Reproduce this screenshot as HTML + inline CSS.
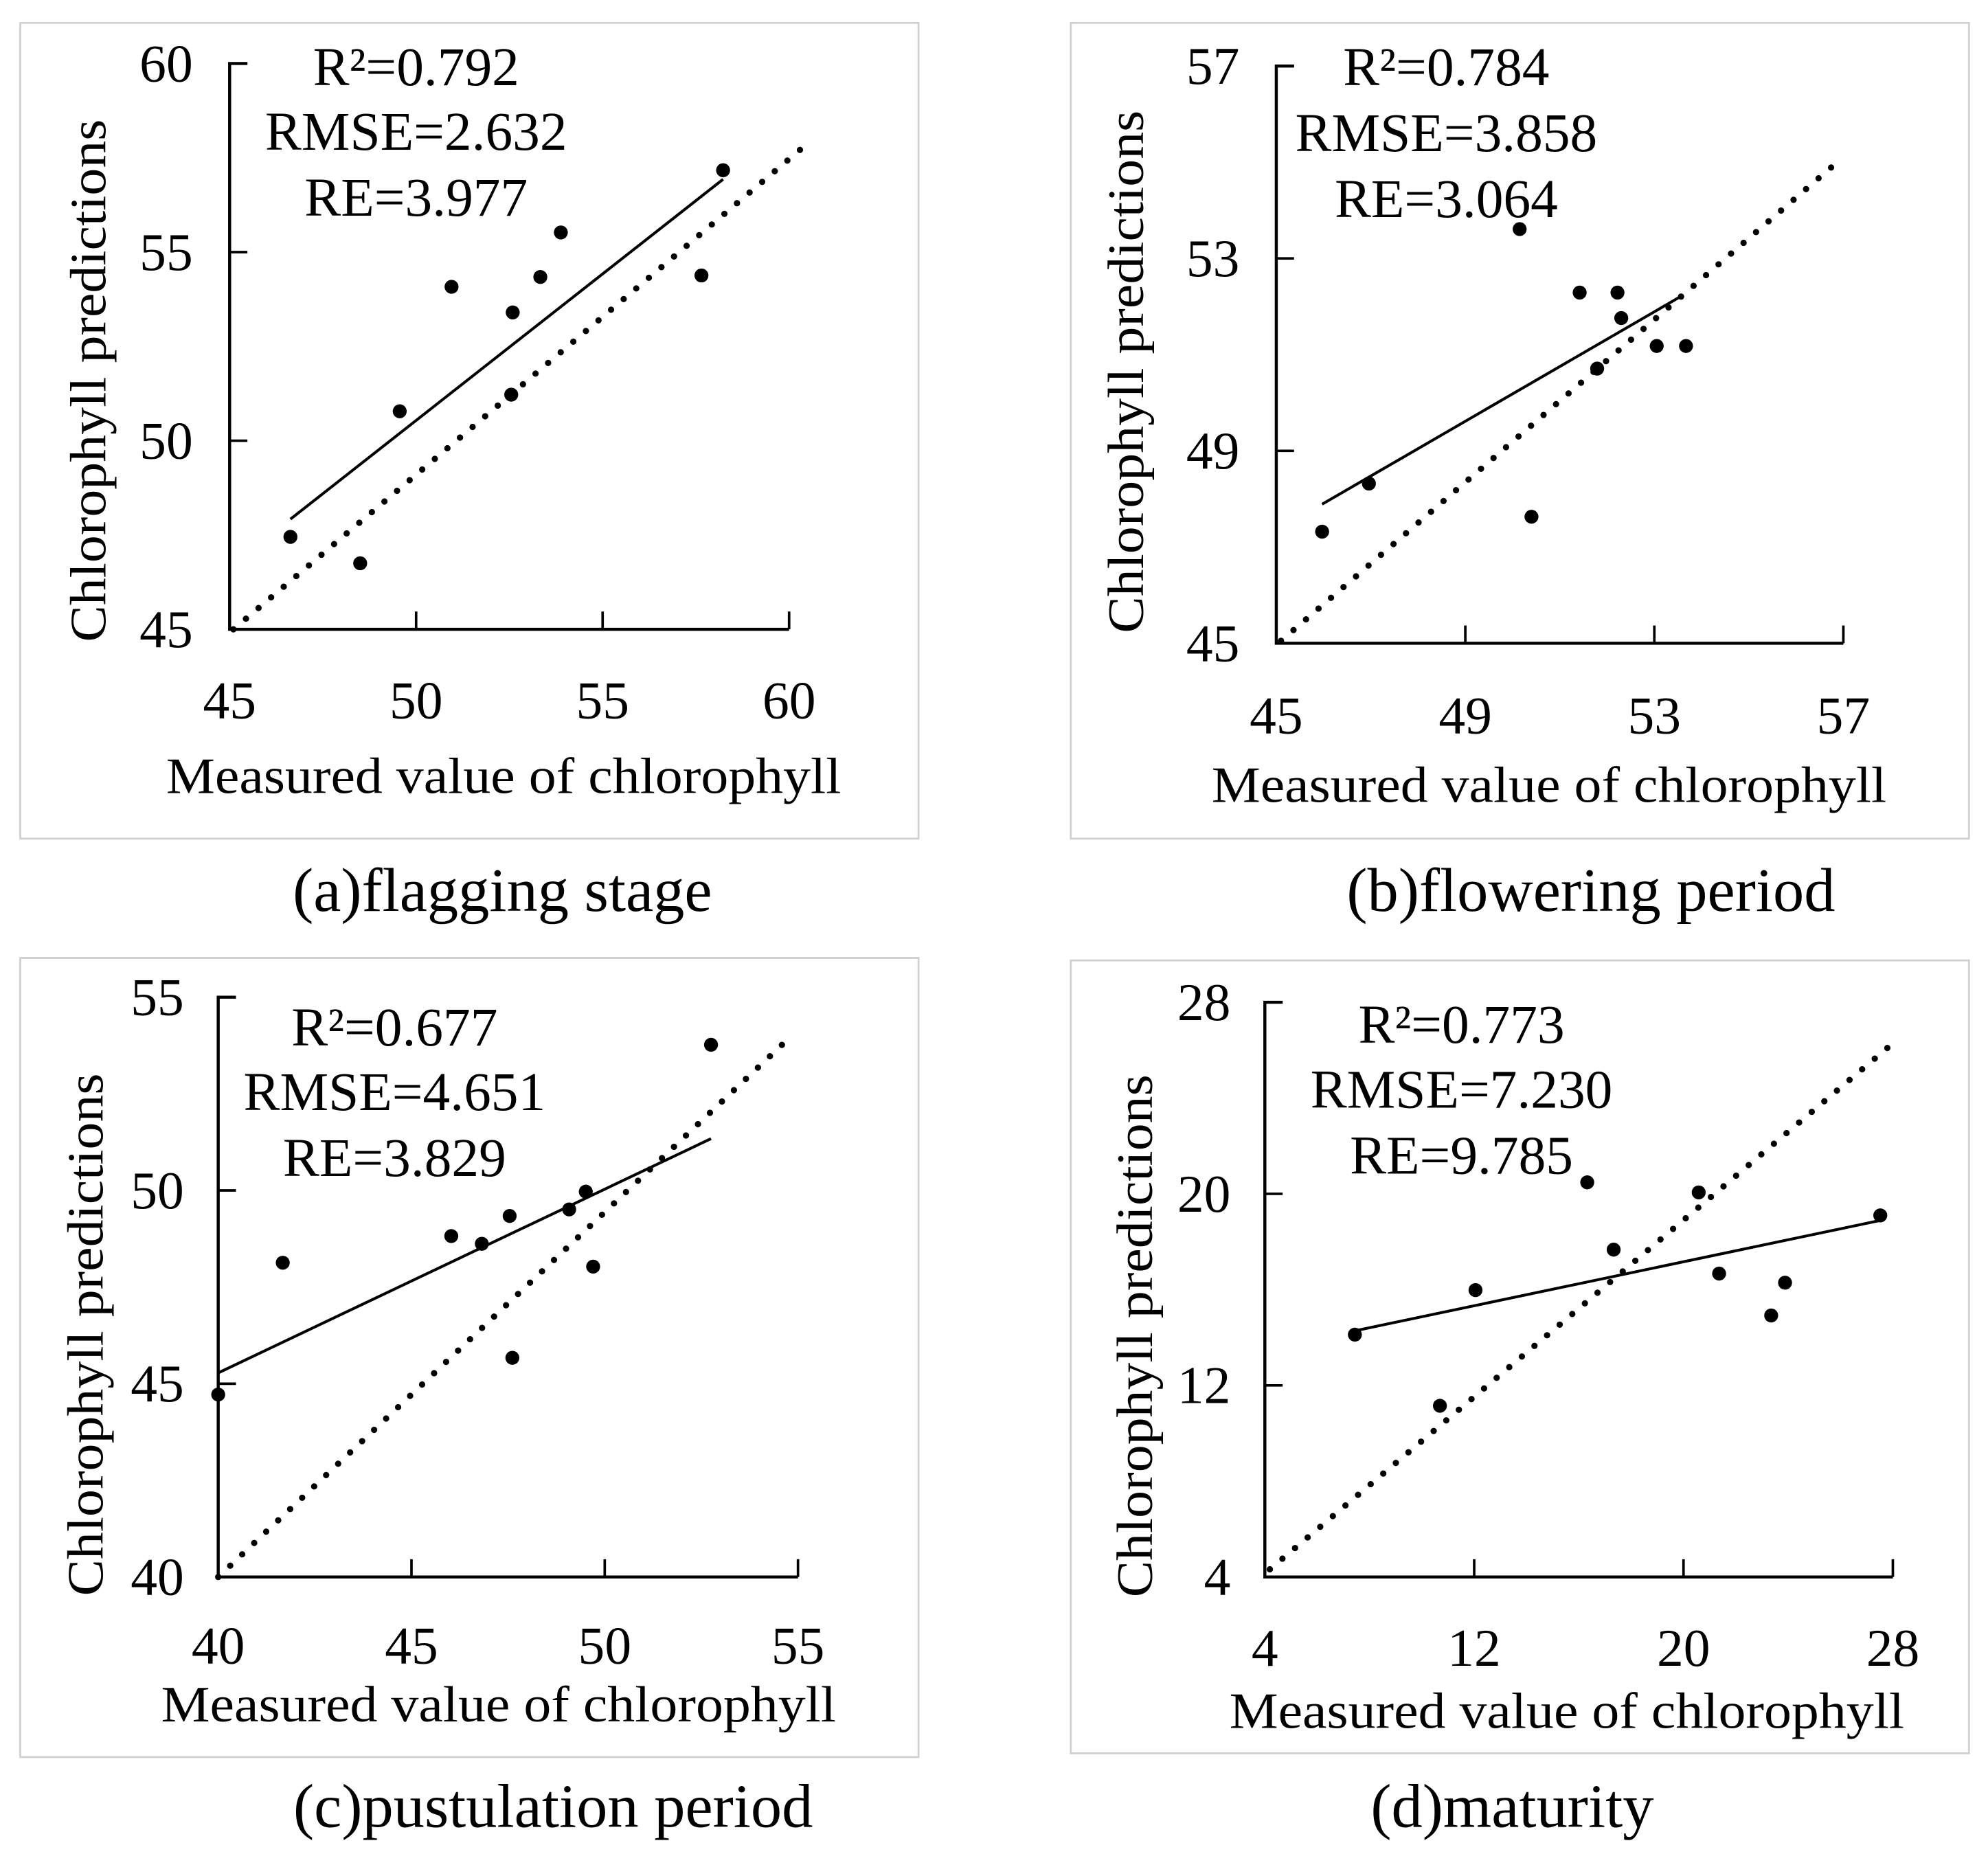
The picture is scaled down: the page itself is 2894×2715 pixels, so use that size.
<!DOCTYPE html>
<html><head><meta charset="utf-8"><style>html,body{margin:0;padding:0;background:#fff}svg{display:block}svg text{font-family:"Liberation Serif","Times New Roman",serif}</style></head>
<body>
<svg id="fig" width="2894" height="2715" viewBox="0 0 1567 1470" xmlns="http://www.w3.org/2000/svg" fill="#000"></svg>
<script>
const aMeasured=[46.63,48.50,49.56,50.95,52.59,52.55,53.33,53.88,57.65,58.23];
const aPredicted=[47.45,46.75,50.78,54.08,53.40,51.22,54.34,55.52,54.38,57.17];
const aFit=[[46.63,47.92],[58.23,56.93]];
const aOneToOne=[[45.1,45],[60.4,57.8]];
const aTicks=[45,50,55,60];
const aStats=["R²=0.792","RMSE=2.632","RE=3.977"];

const bMeasured=[45.97,46.96,50.15,50.40,51.42,51.79,52.22,52.30,53.05,53.67];
const bPredicted=[47.32,48.32,53.61,47.63,52.29,50.71,52.29,51.76,51.18,51.18];
const bFit=[[45.97,47.89],[53.56,52.21]];
const bOneToOne=[[45.1,45.05],[56.87,55.0]];
const bTicks=[45,49,53,57];
const bStats=["R²=0.784","RMSE=3.858","RE=3.064"];

const cMeasured=[40,41.67,46.03,46.82,47.54,47.61,49.08,49.51,49.70,52.75];
const cPredicted=[44.72,48.13,48.82,48.62,49.34,45.67,49.51,49.97,48.03,53.77];
const cFit=[[40,45.28],[52.75,51.34]];
const cOneToOne=[[40,40],[54.62,53.8]];
const cTicks=[40,45,50,55];
const cStats=["R²=0.677","RMSE=4.651","RE=3.829"];

const dMeasured=[7.44,10.69,12.05,16.32,17.33,20.58,21.36,23.35,23.88,27.52];
const dPredicted=[14.12,11.15,15.98,20.48,17.67,20.06,16.67,14.92,16.29,19.10];
const dFit=[[7.44,14.28],[27.52,18.89]];
const dOneToOne=[[4.19,4.32],[27.8,26.1]];
const dTicks=[4,12,20,28];
const dStats=["R²=0.773","RMSE=7.230","RE=9.785"];

const NS="http://www.w3.org/2000/svg";
const svg=document.getElementById('fig');
function mk(tag,attrs,parent){const e=document.createElementNS(NS,tag);for(const k in attrs)e.setAttribute(k,attrs[k]);(parent||svg).appendChild(e);return e;}

const panels=[
 {id:'a',xs:aMeasured,ys:aPredicted,fit:aFit,one:aOneToOne,ticks:aTicks,stats:aStats,caption:'(a)flagging stage',
  frame:[16,18,708,643],x0:181,x1:622,yb:496,yt:50,xlabY:566,ylabR:152,yTitle:[70,300],xTitle:[397,625],statX:328,statY:[67,118,170],cap:[396,718]},
 {id:'b',xs:bMeasured,ys:bPredicted,fit:bFit,one:bOneToOne,ticks:bTicks,stats:bStats,caption:'(b)flowering period',
  frame:[844,18,708,643],x0:1006,x1:1453,yb:507,yt:52,xlabY:578,ylabR:977,yTitle:[888,293],xTitle:[1221,632],statX:1140,statY:[67,119,171],cap:[1254,718]},
 {id:'c',xs:cMeasured,ys:cPredicted,fit:cFit,one:cOneToOne,ticks:cTicks,stats:cStats,caption:'(c)pustulation period',
  frame:[16,755,708,630],x0:172,x1:629,yb:1243,yt:786,xlabY:1311,ylabR:145,yTitle:[68,1052],xTitle:[393,1357],statX:311,statY:[824,875,927],cap:[436,1440]},
 {id:'d',xs:dMeasured,ys:dPredicted,fit:dFit,one:dOneToOne,ticks:dTicks,stats:dStats,caption:'(d)maturity',
  frame:[844,757,708,625],x0:997,x1:1492,yb:1243,yt:790,xlabY:1313,ylabR:970,yTitle:[895,1053],xTitle:[1235,1362],statX:1152,statY:[822,873,925],cap:[1192,1440]}
];

panels.forEach(p=>{
 const g=mk('g',{});
 
 
 const lo=p.ticks[0],hi=p.ticks[p.ticks.length-1];
 const X=v=>p.x0+(v-lo)/(hi-lo)*(p.x1-p.x0);
 const Y=v=>p.yb-(v-lo)/(hi-lo)*(p.yb-p.yt);
 const fr=mk('rect',{x:p.frame[0],y:p.frame[1],width:p.frame[2],height:p.frame[3],fill:'none',stroke:'#d0d0d0','stroke-width':1.5},g);
 
 
 const ax=mk('path',{d:`M${p.x0+14},${p.yt}H${p.x0}V${p.yb}H${p.x1}`,fill:'none',stroke:'#000','stroke-width':2.4},g);
 
 
 p.ticks.forEach((t,i)=>{
  if(i>0){const tk=mk('line',{x1:X(t),x2:X(t),y1:p.yb,y2:p.yb-14,stroke:'#000','stroke-width':2},g);
   
   const tk2=mk('line',{x1:p.x0,x2:p.x0+14,y1:Y(t),y2:Y(t),stroke:'#000','stroke-width':2},g);
   }
  const xl=mk('text',{x:X(t),y:p.xlabY,'text-anchor':'middle','font-size':42},g);xl.textContent=t;
  
  const yl=mk('text',{x:p.ylabR,y:Y(t)+14,'text-anchor':'end','font-size':42},g);yl.textContent=t;
  
 });
 const one=mk('line',{x1:X(p.one[0][0]),y1:Y(p.one[0][1]),x2:X(p.one[1][0]),y2:Y(p.one[1][1]),stroke:'#000','stroke-width':5,'stroke-linecap':'round','stroke-dasharray':'0 13'},g);
 
 const fit=mk('line',{x1:X(p.fit[0][0]),y1:Y(p.fit[0][1]),x2:X(p.fit[1][0]),y2:Y(p.fit[1][1]),stroke:'#000','stroke-width':2.2},g);
 
 p.xs.forEach((v,i)=>{const c=mk('circle',{cx:X(v),cy:Y(p.ys[i]),r:5.5},g);
  });
 p.stats.forEach((s,i)=>{const t=mk('text',{x:p.statX,y:p.statY[i],'text-anchor':'middle','font-size':43},g);t.textContent=s;
  });
 const yt=mk('text',{x:0,y:0,'text-anchor':'middle','font-size':40,transform:`translate(${p.yTitle[0]+13},${p.yTitle[1]}) rotate(-90)`,textLength:412,lengthAdjust:'spacingAndGlyphs'},g);
 yt.textContent='Chlorophyll predictions';
 
 const xt=mk('text',{x:p.xTitle[0],y:p.xTitle[1],'text-anchor':'middle','font-size':40,textLength:532,lengthAdjust:'spacingAndGlyphs'},g);
 xt.textContent='Measured value of chlorophyll';
 
 const cp=mk('text',{x:p.cap[0],y:p.cap[1],'text-anchor':'middle','font-size':49},g);cp.textContent=p.caption;
 
});
</script>
</body></html>
